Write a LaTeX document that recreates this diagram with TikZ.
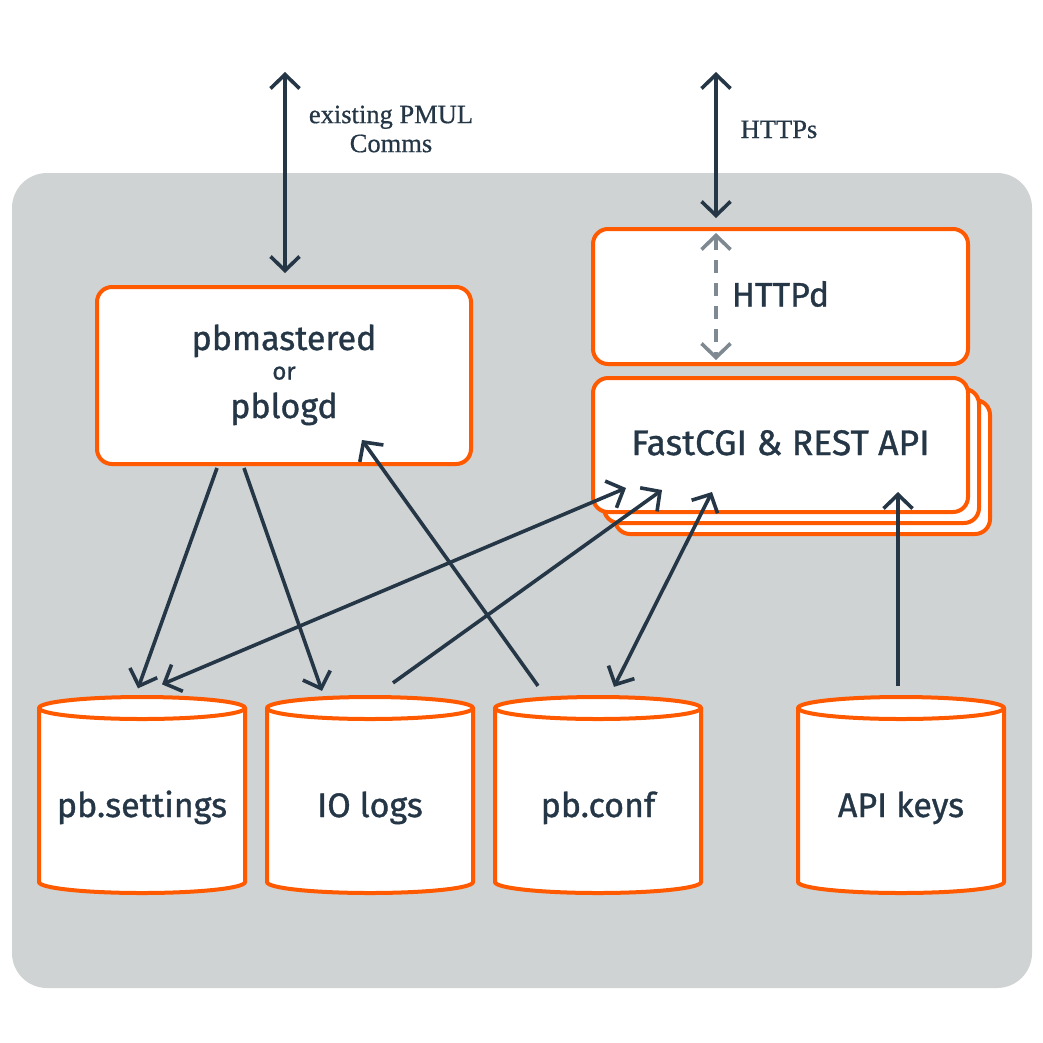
\documentclass[tikz,border=0pt]{standalone}
\usepackage{fontspec}
\setmainfont{Fira Sans}[FakeBold=1]
\newfontfamily\labfont{Liberation Serif}[FakeBold=0.6]
\usetikzlibrary{arrows.meta,calc}
\definecolor{navy}{HTML}{253746}
\definecolor{orng}{HTML}{FF5A00}
\definecolor{bggray}{HTML}{D0D3D4}
\definecolor{dgray}{HTML}{7E8991}
\begin{document}
\begin{tikzpicture}[x=1pt,y=1pt,yscale=-1,
  tipb/.tip={Straight Barb[length=14pt,width=29pt]},
  box/.style={draw=orng, line width=4pt, fill=white, rounded corners=15pt, inner sep=0pt},
  maintxt/.style={text=navy, font=\fontsize{34}{40}\selectfont, anchor=base, inner sep=0pt},
  labtxt/.style={text=navy, font=\labfont\fontsize{26.5}{29}\selectfont, align=center},
  conn/.style={draw=navy, line width=3.6pt, line cap=butt},
  dconn/.style={draw=dgray, line width=3.6pt, dash pattern=on 13pt off 10pt},
  cyl/.pic={
    \path[draw=orng,line width=4pt,fill=white] (-103,87) -- (-103,-87) arc (180:360:103 and 11) -- (103,87) arc (0:180:103 and 11) -- cycle;
    \draw[orng,line width=4pt] (-103,87) arc (180:360:103 and 11);
  }]
\useasboundingbox[fill=white] (0,0) rectangle (1043,1042);
% background panel
\fill[bggray, rounded corners=35pt] (12,173) rectangle (1032,988);

% process boxes
\node[box, minimum width=374pt, minimum height=177pt] (pbm) at (284,375.5) {};
\node[maintxt] (t1) at ($(pbm)+(0,-25.5)$) {pbmastered};
\node[maintxt, font=\fontsize{24}{28}\selectfont] (t2) at ($(pbm)+(0,4)$) {or};
\node[maintxt] (t3) at ($(pbm)+(0,42.5)$) {pblogd};

\node[box, minimum width=375pt, minimum height=135pt] (httpd) at (780.5,296.5) {};
\node[maintxt] (t4) at ($(httpd)+(0,10)$) {HTTPd};

\node[box, minimum width=375pt, minimum height=134pt] (f3) at (802.5,467) {};
\node[box, minimum width=375pt, minimum height=134pt] (f2) at (791.5,456) {};
\node[box, minimum width=375pt, minimum height=134pt] (fcgi) at (780.5,445) {};
\node[maintxt, font=\fontsize{35.5}{40}\selectfont] (t5) at ($(fcgi)+(0,10)$) {FastCGI \& REST API};

% data stores
\pic at (142,795) {cyl};
\pic at (370,795) {cyl};
\pic at (598,795) {cyl};
\pic at (901,795) {cyl};
\node[maintxt] (s1) at (142,817) {pb.settings};
\node[maintxt] (s2) at (370,817) {IO logs};
\node[maintxt] (s3) at (598,817) {pb.conf};
\node[maintxt] (s4) at (901,817) {API keys};

% external connections
\coordinate (pmul) at (285,72);
\coordinate (https) at (716,72);
\draw[conn, tipb-tipb] (pmul) -- ($(pbm)+(1,-102.5)$);
\draw[conn, tipb-tipb] (https) -- ($(httpd)+(-64.5,-78.5)$);
\node[labtxt] (lpmul) at (391,129) {existing PMUL\\Comms};
\node[labtxt, anchor=base] (lhttps) at (779,138) {HTTPs};

% internal
\draw[dconn, tipb-tipb] ($(httpd)+(-64.5,-63.5)$) -- ($(httpd)+(-64.5,63.5)$);
\draw[conn, -tipb] ($(pbm)+(-67,92.5)$) -- ($(s1)+(-4,-119)$);
\draw[conn, -tipb] ($(pbm)+(-40,92.5)$) -- ($(s2)+(-48,-117)$);
\draw[conn, -tipb] ($(s3)+(-60,-122)$) -- ($(pbm)+(78,64.5)$);
\draw[conn, tipb-tipb] ($(s1)+(20,-123)$) -- ($(fcgi)+(-154.5,43)$);
\draw[conn, -tipb] ($(s2)+(23,-125)$) -- ($(fcgi)+(-118.5,45)$);
\draw[conn, tipb-tipb] ($(s3)+(16,-121)$) -- ($(fcgi)+(-68.5,47)$);
\draw[conn, -tipb] ($(s4)+(-3,-122)$) -- ($(fcgi)+(117.5,47)$);
\end{tikzpicture}
\end{document}
